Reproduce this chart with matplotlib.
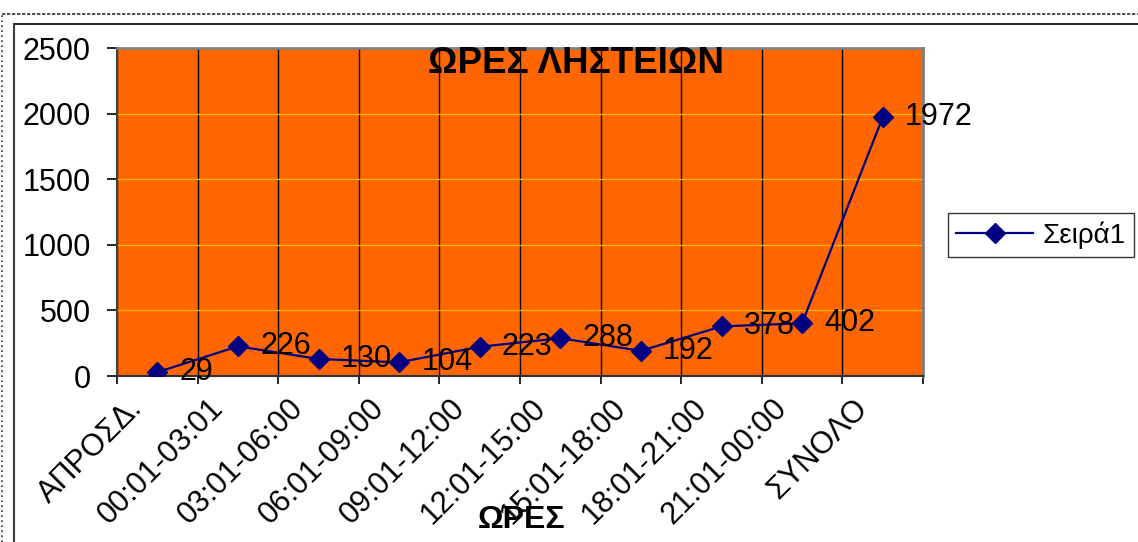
import matplotlib.pyplot as plt
from matplotlib.lines import Line2D
from matplotlib.ticker import FixedLocator, MultipleLocator
from matplotlib.transforms import ScaledTranslation

plt.rcParams['font.family'] = ['Liberation Sans', 'DejaVu Sans']

hours = ['ΑΠΡΟΣΔ.', '00:01-03:01', '03:01-06:00', '06:01-09:00', '09:01-12:00',
         '12:01-15:00', '15:01-18:00', '18:01-21:00', '21:01-00:00', 'ΣΥΝΟΛΟ']
robberies = [29, 226, 130, 104, 223, 288, 192, 378, 402, 1972]

W, H = 1138, 542
fig = plt.figure(figsize=(W / 100, H / 100), dpi=100)
ax = fig.add_axes([117 / W, 1 - 376 / H, (923 - 117) / W, (376 - 48) / H])
ax.set_facecolor('#FF6600')

x = list(range(len(hours)))
ax.plot(x, robberies, color='#000080', lw=1.6, marker='D', ms=10,
        markerfacecolor='#000080', markeredgecolor='#000080', label='Σειρά1', zorder=3)
for xi, v in zip(x, robberies):
    ax.annotate(str(v), (xi, v), xytext=(16, 0), textcoords='offset points',
                ha='left', va='center', fontsize=22, color='black', zorder=4)

ax.set_xlim(-0.5, len(hours) - 0.5)
ax.set_ylim(0, 2500)
ax.yaxis.set_major_locator(MultipleLocator(500))
ax.tick_params(axis='y', labelsize=22, length=7, width=1.2, pad=12, direction='out')
ax.grid(axis='y', color='#FFB800', lw=0.9)

ax.set_xticks(x)
ax.set_xticklabels(hours, rotation=45, ha='right', va='top', rotation_mode='anchor', fontsize=22)
ax.xaxis.set_minor_locator(FixedLocator([i - 0.5 for i in range(len(hours) + 1)]))
ax.tick_params(axis='x', which='major', length=0, pad=14)
ax.tick_params(axis='x', which='minor', length=6, width=1.2, direction='out')
ax.grid(axis='x', which='minor', color='black', lw=1)
ax.set_axisbelow(True)
shift = ScaledTranslation(-0.30, 0.02, fig.dpi_scale_trans)
for lbl in ax.get_xticklabels():
    lbl.set_transform(lbl.get_transform() + shift)

for side in ['top', 'right']:
    ax.spines[side].set_color('#808080')
    ax.spines[side].set_linewidth(2)
ax.spines['left'].set_color('#404040')
ax.spines['left'].set_linewidth(1.5)
ax.spines['bottom'].set_color('#303030')
ax.spines['bottom'].set_linewidth(1.5)

ax.text(0.5695, 0.924, 'ΩΡΕΣ ΛΗΣΤΕΙΩΝ', transform=ax.transAxes, ha='center', va='baseline',
        fontsize=26.5, fontweight='bold')
fig.text(522 / W, 1 - 520 / H, 'ΩΡΕΣ', ha='center', va='center', fontsize=23, fontweight='bold')

leg = fig.legend(loc='center left', bbox_to_anchor=(948 / W, 1 - 235 / H), fontsize=20,
                 frameon=True, fancybox=False, edgecolor='black', handlelength=2.75,
                 handletextpad=0.35, borderpad=0.3, borderaxespad=0)
leg.get_frame().set_linewidth(1)

# outer dotted border and inner solid frame
fig.add_artist(Line2D([2 / W, 1], [1 - 14 / H] * 2, transform=fig.transFigure,
                      color='#333333', lw=1.2, ls=(0, (2, 1))))
fig.add_artist(Line2D([2 / W] * 2, [0, 1 - 14 / H], transform=fig.transFigure,
                      color='#333333', lw=1.2, ls=(0, (1, 2))))
fig.add_artist(Line2D([14 / W, 1], [1 - 24 / H] * 2, transform=fig.transFigure,
                      color='black', lw=1.2))
fig.add_artist(Line2D([14 / W] * 2, [0, 1 - 24 / H], transform=fig.transFigure,
                      color='#404040', lw=1.5))

fig.savefig('out.png', dpi=100)
